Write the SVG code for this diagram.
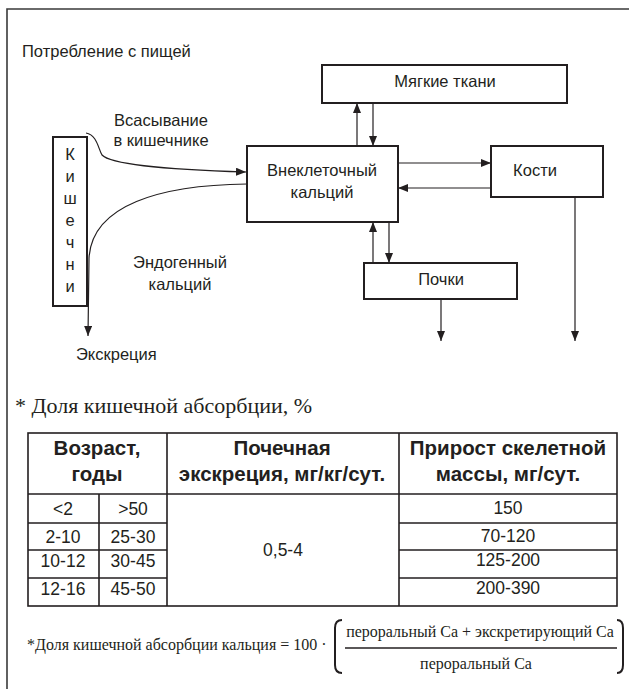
<svg xmlns="http://www.w3.org/2000/svg" width="629" height="689" viewBox="0 0 629 689">
<defs>
<marker id="ah" viewBox="0 0 10 8" refX="10" refY="4" markerWidth="10" markerHeight="8" markerUnits="userSpaceOnUse" orient="auto">
<path d="M0,0 L10,4 L0,8 Z" fill="#231f20"/>
</marker>
<style>
.t{font-family:"Liberation Sans",Arial,sans-serif;font-size:16.5px;fill:#231f20}
.c{text-anchor:middle}
.box{fill:#fff;stroke:#231f20;stroke-width:2}
.ln{fill:none;stroke:#231f20;stroke-width:1.2}
.tl{fill:none;stroke:#231f20;stroke-width:1.6}
.hd{font-family:"Liberation Sans",Arial,sans-serif;font-size:20.5px;font-weight:bold;fill:#231f20;text-anchor:middle}
.dt{font-family:"Liberation Sans",Arial,sans-serif;font-size:17.5px;fill:#231f20;text-anchor:middle}
.sf{font-family:"Liberation Serif","Times New Roman",serif;fill:#231f20}
</style>
</defs>
<rect width="629" height="689" fill="#fff"/>
<path d="M7,700 V9 H640" fill="none" stroke="#3a3a3a" stroke-width="1.6"/>

<text class="t" x="22" y="57">Потребление с пищей</text>

<g id="connectors">
<path class="ln" d="M86,133 C97,135 98,148 102,155 C112,166 180,170 246,172" marker-end="url(#ah)"/>
<path class="ln" d="M247,184 C160,185 92,205 89,258 L88,336" marker-end="url(#ah)"/>
<path class="ln" d="M357,146 V103" marker-end="url(#ah)"/>
<path class="ln" d="M373,103 V146" marker-end="url(#ah)"/>
<path class="ln" d="M398,163 H491" marker-end="url(#ah)"/>
<path class="ln" d="M491,188 H398" marker-end="url(#ah)"/>
<path class="ln" d="M373,263 V222" marker-end="url(#ah)"/>
<path class="ln" d="M389,222 V263" marker-end="url(#ah)"/>
<path class="ln" d="M441,299 V341" marker-end="url(#ah)"/>
<path class="ln" d="M575,197 V341" marker-end="url(#ah)"/>
</g>

<text class="t c" x="161" y="126">Всасывание</text>
<text class="t c" x="161" y="146">в кишечнике</text>
<text class="t c" x="180" y="268">Эндогенный</text>
<text class="t c" x="180" y="290">кальций</text>
<text class="t" x="76" y="360">Экскреция</text>

<g id="intestine">
<rect class="box" x="53" y="137" width="34" height="169"/>
<text class="t c" x="70" y="160">К</text>
<text class="t c" x="70" y="182">и</text>
<text class="t c" x="70" y="204">ш</text>
<text class="t c" x="70" y="226">е</text>
<text class="t c" x="70" y="248">ч</text>
<text class="t c" x="70" y="270">н</text>
<text class="t c" x="70" y="292">и</text>
</g>

<g id="extracellular">
<rect class="box" x="247" y="146" width="151" height="76"/>
<text class="t c" x="322" y="176">Внеклеточный</text>
<text class="t c" x="322" y="198">кальций</text>
</g>

<g id="soft">
<rect class="box" x="322" y="65" width="245" height="38"/>
<text class="t c" x="445" y="87">Мягкие ткани</text>
</g>

<g id="bones">
<rect class="box" x="491" y="146" width="112" height="51"/>
<text class="t c" x="535" y="176">Кости</text>
</g>

<g id="kidneys">
<rect class="box" x="364" y="263" width="153" height="36"/>
<text class="t c" x="441" y="285">Почки</text>
</g>

<text class="sf" x="15" y="413" font-size="22">* Доля кишечной абсорбции, %</text>

<g id="table">
<rect class="tl" x="28" y="433" width="589" height="173" stroke-width="2"/>
<path class="tl" d="M28,494 H617 M167,433 V606 M399,433 V606 M99,494 V606 M28,523 H167 M28,550 H167 M28,578 H167 M399,523 H617 M399,550 H617 M399,578 H617"/>
<text class="hd" x="97" y="455">Возраст,</text>
<text class="hd" x="97" y="481">годы</text>
<text class="hd" x="282" y="455">Почечная</text>
<text class="hd" x="282" y="481">экскреция, мг/кг/сут.</text>
<text class="hd" x="508" y="455">Прирост скелетной</text>
<text class="hd" x="508" y="481">массы, мг/сут.</text>
<text class="dt" x="63" y="515">&lt;2</text>
<text class="dt" x="133" y="515">&gt;50</text>
<text class="dt" x="63" y="543">2-10</text>
<text class="dt" x="133" y="543">25-30</text>
<text class="dt" x="63" y="567">10-12</text>
<text class="dt" x="133" y="567">30-45</text>
<text class="dt" x="63" y="595">12-16</text>
<text class="dt" x="133" y="595">45-50</text>
<text class="dt" x="283" y="556">0,5-4</text>
<text class="dt" x="508" y="514">150</text>
<text class="dt" x="508" y="542">70-120</text>
<text class="dt" x="508" y="566">125-200</text>
<text class="dt" x="508" y="594">200-390</text>
</g>

<g id="formula">
<text class="sf" x="27" y="650" font-size="16">*Доля кишечной абсорбции кальция = 100 ·</text>
<path d="M342,620 Q335,620 335,628 V665 Q335,673 342,673 M617,620 Q623,620 623,628 V665 Q623,673 617,673" fill="none" stroke="#231f20" stroke-width="2"/>
<text class="sf" x="480" y="637" font-size="16" text-anchor="middle">пероральный Са + экскретирующий Са</text>
<path d="M345,648 H617" stroke="#231f20" stroke-width="1.5"/>
<text class="sf" x="476" y="669" font-size="16" text-anchor="middle">пероральный Са</text>
</g>
</svg>
